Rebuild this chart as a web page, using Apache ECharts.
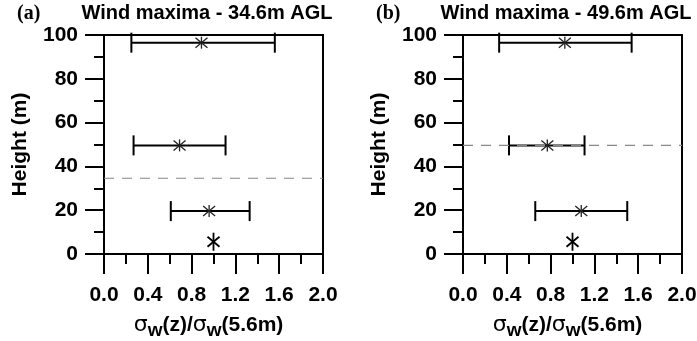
<!DOCTYPE html>
<html>
<head>
<meta charset="utf-8">
<script src="https://cdn.jsdelivr.net/npm/echarts@6/dist/echarts.min.js"></script>
<style>
  html, body { margin: 0; padding: 0; background: #fff; }
  #main { width: 697px; height: 341px; }
</style>
</head>
<body>
<div id="main"></div>
<script>
// heights of the measurement levels (m)
var heights = [96.5, 49.6, 19.6, 5.6];
// panel (a): wind maxima at 34.6 m
var meanA = [0.89, 0.69, 0.96, 1.0];
var lowA = [0.25, 0.27, 0.61];
var highA = [1.56, 1.11, 1.33];
// panel (b): wind maxima at 49.6 m
var meanB = [0.93, 0.77, 1.08, 1.0];
var lowB = [0.33, 0.42, 0.66];
var highB = [1.54, 1.11, 1.50];
var jetHeights = [34.6, 49.6];
var panelTitles = ['Wind maxima - 34.6m AGL', 'Wind maxima - 49.6m AGL'];
var panelLabels = ['(a)', '(b)'];

var chartDom = document.getElementById('main');
var myChart = echarts.init(chartDom);
var option;

var fontMain = 'Liberation Sans, Arial, sans-serif';

function errorBarData(low, high) {
    let out = [];
    for (let i = 0; i < low.length; i++) {
        out.push([low[i], high[i], heights[i]]);
    }
    return out;
}

function starData(mean) {
    let out = [];
    for (let i = 0; i < mean.length; i++) {
        out.push([mean[i], heights[i], heights[i] === 5.6 ? 1 : 0]);
    }
    return out;
}

function renderErrorBar(params, api) {
    let p1 = api.coord([api.value(0), api.value(2)]);
    let p2 = api.coord([api.value(1), api.value(2)]);
    let style = { stroke: '#000', lineWidth: 2 };
    return {
        type: 'group',
        children: [
            { type: 'line', shape: { x1: p1[0], y1: p1[1], x2: p2[0], y2: p2[1] }, style: style },
            { type: 'line', shape: { x1: p1[0], y1: p1[1] - 10, x2: p1[0], y2: p1[1] + 10 }, style: style },
            { type: 'line', shape: { x1: p2[0], y1: p2[1] - 10, x2: p2[0], y2: p2[1] + 10 }, style: style }
        ]
    };
}

function renderStar(params, api) {
    let p = api.coord([api.value(0), api.value(1)]);
    let big = api.value(2) === 1;
    let v = big ? 9 : 6;
    let dx = 6;
    let dy = 5;
    let style = { stroke: big ? '#000' : '#222', lineWidth: big ? 1.8 : 1.3 };
    return {
        type: 'group',
        children: [
            { type: 'line', shape: { x1: p[0], y1: p[1] - v, x2: p[0], y2: p[1] + v }, style: style },
            { type: 'line', shape: { x1: p[0] - dx, y1: p[1] - dy, x2: p[0] + dx, y2: p[1] + dy }, style: style },
            { type: 'line', shape: { x1: p[0] - dx, y1: p[1] + dy, x2: p[0] + dx, y2: p[1] - dy }, style: style }
        ]
    };
}

var gridLefts = [104, 463];
var grids = [], xAxes = [], yAxes = [], graphics = [], series = [];

for (let k = 0; k < 2; k++) {
    grids.push({
        left: gridLefts[k], top: 35, width: 219, height: 219,
        outerBoundsMode: 'none', containLabel: false,
        show: true, borderColor: '#000', borderWidth: 2, backgroundColor: 'transparent'
    });
    xAxes.push({
        gridIndex: k, type: 'value', min: 0, max: 2, interval: 0.4,
        axisLine: { show: true, lineStyle: { color: '#000', width: 2 } },
        axisTick: { show: true, inside: false, length: 20, lineStyle: { color: '#000', width: 2 } },
        minorTick: { show: true, splitNumber: 2, length: 10, lineStyle: { color: '#000', width: 2 } },
        splitLine: { show: false },
        axisLabel: {
            margin: 31, color: '#000', fontSize: 21, fontWeight: 'bold', fontFamily: fontMain,
            formatter: function (v) { return v.toFixed(1); }
        },
        name: '{s|σ}{w|w}{t|(z)/}{s|σ}{w|w}{t|(5.6m)}',
        nameLocation: 'middle', nameGap: 60,
        nameTextStyle: {
            padding: [0, 10, 0, 0],
            rich: {
                s: { fontSize: 22, fontFamily: 'DejaVu Sans, sans-serif', color: '#000', verticalAlign: 'bottom' },
                w: { fontSize: 19, fontWeight: 'bold', fontFamily: fontMain, color: '#000', verticalAlign: 'bottom', padding: [0, 0, -4, 0] },
                t: { fontSize: 21, fontWeight: 'bold', fontFamily: fontMain, color: '#000', verticalAlign: 'bottom' }
            }
        }
    });
    yAxes.push({
        gridIndex: k, type: 'value', min: 0, max: 100, interval: 20,
        axisLine: { show: true, lineStyle: { color: '#000', width: 2 } },
        axisTick: { show: true, inside: false, length: 19, lineStyle: { color: '#000', width: 2 } },
        minorTick: { show: true, splitNumber: 2, length: 10, lineStyle: { color: '#000', width: 2 } },
        splitLine: { show: false },
        axisLabel: { margin: 26, color: '#000', fontSize: 21, fontWeight: 'bold', fontFamily: fontMain },
        name: 'Height (m)', nameLocation: 'middle', nameGap: 73, nameRotate: 90,
        nameTextStyle: { color: '#000', fontSize: 21, fontWeight: 'bold', fontFamily: fontMain }
    });
    graphics.push({
        type: 'text', x: gridLefts[k] + 103, y: 13,
        style: {
            text: panelTitles[k], fill: '#000', align: 'center', verticalAlign: 'middle',
            font: 'bold 20px ' + fontMain
        }
    });
    graphics.push({
        type: 'text', x: gridLefts[k] - 87, y: 14,
        style: {
            text: panelLabels[k], fill: '#000', align: 'left', verticalAlign: 'middle',
            font: 'bold 20px Liberation Serif, Times New Roman, serif'
        }
    });
}

var means = [meanA, meanB];
var lows = [lowA, lowB];
var highs = [highA, highB];
for (let k = 0; k < 2; k++) {
    series.push({
        type: 'line', xAxisIndex: k, yAxisIndex: k, silent: true,
        data: [[0, jetHeights[k]], [2, jetHeights[k]]],
        symbol: 'none',
        lineStyle: { color: '#888', width: 1.2, type: [10, 8] }
    });
    series.push({
        type: 'custom', xAxisIndex: k, yAxisIndex: k, silent: true,
        data: errorBarData(lows[k], highs[k]),
        renderItem: renderErrorBar
    });
    series.push({
        type: 'custom', xAxisIndex: k, yAxisIndex: k, silent: true,
        data: starData(means[k]),
        renderItem: renderStar
    });
}

option = {
    animation: false,
    backgroundColor: '#fff',
    graphic: graphics,
    grid: grids,
    xAxis: xAxes,
    yAxis: yAxes,
    series: series
};

option && myChart.setOption(option);
</script>
</body>
</html>
